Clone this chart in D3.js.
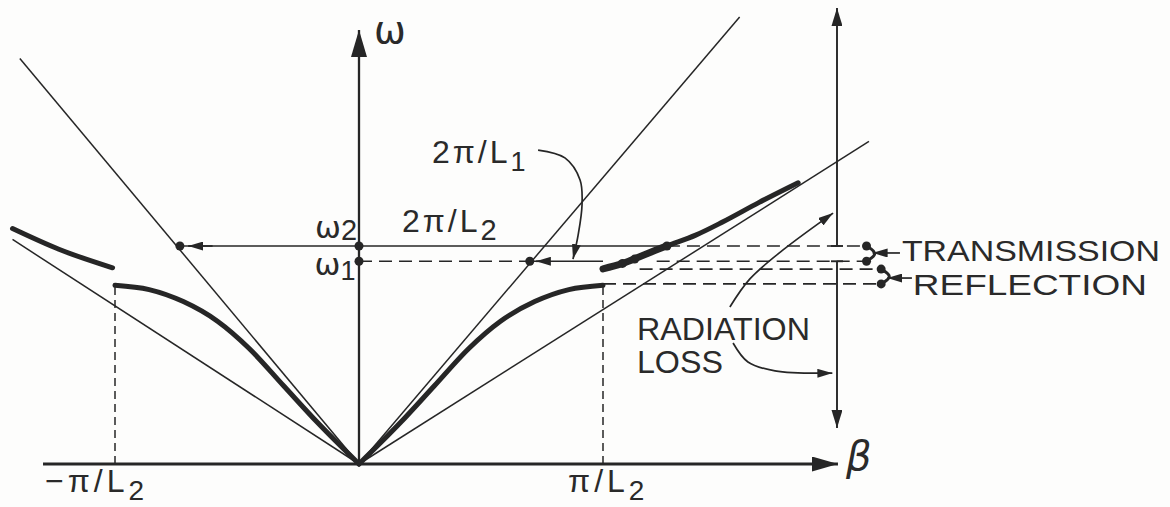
<!DOCTYPE html>
<html lang="en">
<head>
<meta charset="UTF-8">
<title>Dispersion diagram</title>
<script src="https://d3js.org/d3.v7.min.js"></script>
<style>
    body { margin: 0; background: #fdfdfc; }
    svg { display: block; }
    text { font-family: "Liberation Sans", Arial, sans-serif; fill: #2a2a2a; }
    .greek { font-family: "DejaVu Sans", sans-serif; }
</style>
</head>
<body>
<svg width="1170" height="507"></svg>
<script>
// beta in units of pi/L2, omega in units of omega2
const steepLines = [[[0, 0], [-1.39, 1.86]], [[0, 0], [1.56, 2.05]]];
const shallowLines = [[[0, 0], [-1.42, 1.03]], [[0, 0], [2.09, 1.48]]];

const branchUpperLeft = [[-1.42, 1.08], [-1.23, 0.985], [-1.01, 0.90]];
const branchLowerLeft = [[-1.0, 0.82], [-0.86, 0.80], [-0.72, 0.745], [-0.58, 0.655], [-0.45, 0.53], [-0.31, 0.36], [-0.17, 0.19], [0, 0]];
const branchLowerRight = [[0, 0], [0.17, 0.19], [0.31, 0.36], [0.45, 0.53], [0.58, 0.655], [0.72, 0.745], [0.86, 0.80], [1.0, 0.82]];
const branchUpperRight = [[1.00, 0.895], [1.08, 0.92], [1.17, 0.96], [1.26, 1.00], [1.38, 1.05], [1.49, 1.11], [1.64, 1.20], [1.80, 1.29]];

const solidLevels = [[[-0.734, 1.0], [1.262, 1.0]], [[0.70, 0.93], [1.0, 0.93]]];
const dashedLevels = [
    [[1.262, 1.0], [2.08, 1.0]],
    [[0, 0.93], [0.70, 0.93]],
    [[1.22, 0.93], [2.08, 0.93]],
    [[1.15, 0.894], [2.14, 0.894]],
    [[1.0, 0.826], [2.14, 0.826]]
];
const dashedEdges = [[[-1, 0], [-1, 0.82]], [[1, 0], [1, 0.826]]];

const dots = [[0, 1.0], [0, 0.93], [-0.734, 1.0], [0.70, 0.93], [1.262, 1.0], [1.08, 0.92], [1.13, 0.94],
              [2.08, 1.0], [2.08, 0.93], [2.14, 0.894], [2.14, 0.826]];

const brackets = [[[2.08, 1.0], [2.13, 0.965], [2.08, 0.93]], [[2.14, 0.894], [2.19, 0.86], [2.14, 0.826]]];
const smallArrows = [
    [[-0.60, 1.0], [-0.70, 1.0]],
    [[0.78, 0.93], [0.725, 0.93]],
    [[2.217, 0.968], [2.105, 0.968]],
    [[2.266, 0.853], [2.165, 0.853]]
];
const curvedArrows = [
    [[0.734, 1.440], [0.844, 1.404], [0.906, 1.303], [0.914, 1.188], [0.898, 1.050], [0.877, 0.940]],
    [[1.520, 0.720], [1.602, 0.849], [1.738, 0.982], [1.943, 1.151]],
    [[1.533, 0.555], [1.594, 0.468], [1.705, 0.427], [1.940, 0.417]]
];
const radiationBar = { beta: 1.959, top: 2.092, upperEnd: 1.0, lowerStart: 0.93, bottom: 0.165 };
const betaAxis = [-1.295, 1.963];
const omegaAxisTop = 1.991;

const labels = [
    { main: "ω", sub: "", b: 0.061, w: 1.931, size: 38, greek: true },
    { main: "ω", sub: "2", b: -0.180, w: 1.037, size: 31, subSize: 29, dy: 2, greek: true },
    { main: "ω", sub: "1", b: -0.182, w: 0.867, size: 31, subSize: 27, dy: 5, greek: true },
    { main: "2π/L", sub: "1", b: 0.299, w: 1.381, size: 32, subSize: 27, dy: 8, ls: 3 },
    { main: "2π/L", sub: "2", b: 0.176, w: 1.064, size: 32, subSize: 29, dy: 8, ls: 3 },
    { main: "−π/L", sub: "2", b: -1.287, w: -0.130, size: 32, subSize: 28, dy: 8, ls: 4 },
    { main: "π/L", sub: "2", b: 0.857, w: -0.130, size: 32, subSize: 28, dy: 8, ls: 4 }
];
const capsLabels = [
    { text: "TRANSMISSION", b: 2.225, w: 0.931, len: 258, size: 30 },
    { text: "REFLECTION", b: 2.270, w: 0.775, len: 234, size: 30 },
    { text: "RADIATION", b: 1.139, w: 0.569, len: 173, size: 32 },
    { text: "LOSS", b: 1.139, w: 0.418, len: 86, size: 32 }
];

const x = d3.scaleLinear().domain([-1, 1]).range([115, 603]);
const y = d3.scaleLinear().domain([0, 1]).range([464, 246]);
const ink = "#262626";

const svg = d3.select("svg");
const defs = svg.append("defs");

function marker(id, len, wid) {
    defs.append("marker")
        .attr("id", id)
        .attr("viewBox", "0 0 10 10")
        .attr("preserveAspectRatio", "none")
        .attr("refX", 10).attr("refY", 5)
        .attr("markerUnits", "userSpaceOnUse")
        .attr("markerWidth", len).attr("markerHeight", wid)
        .attr("orient", "auto")
        .append("path")
        .attr("d", "M0,0L10,5L0,10Z")
        .attr("fill", ink);
}
marker("head-omega", 27, 16);
marker("head-beta", 26, 15);
marker("head-bar", 18, 11);
marker("head-small", 15, 9);

const line = d3.line().x(d => x(d[0])).y(d => y(d[1]));
const smooth = d3.line().x(d => x(d[0])).y(d => y(d[1])).curve(d3.curveCatmullRom.alpha(0.5));
const mono = d3.line().x(d => x(d[0])).y(d => y(d[1])).curve(d3.curveMonotoneX);
const basis = d3.line().x(d => x(d[0])).y(d => y(d[1])).curve(d3.curveBasis);

// thin asymptote lines
svg.append("g").selectAll("path")
    .data(steepLines.concat(shallowLines))
    .join("path")
    .attr("d", line)
    .attr("fill", "none").attr("stroke", ink).attr("stroke-width", 1.5);

// dashed levels
svg.append("g").selectAll("path")
    .data(dashedLevels)
    .join("path")
    .attr("d", line)
    .attr("fill", "none").attr("stroke", ink).attr("stroke-width", 1.7)
    .attr("stroke-dasharray", "13,7");

svg.append("g").selectAll("path")
    .data(dashedEdges)
    .join("path")
    .attr("d", line)
    .attr("fill", "none").attr("stroke", ink).attr("stroke-width", 1.5)
    .attr("stroke-dasharray", "8,5");

// solid levels
svg.append("g").selectAll("path")
    .data(solidLevels)
    .join("path")
    .attr("d", line)
    .attr("fill", "none").attr("stroke", ink).attr("stroke-width", 1.7);

// axes
svg.append("path")
    .attr("d", line([[betaAxis[0], 0], [betaAxis[1], 0]]))
    .attr("stroke", ink).attr("stroke-width", 2.8)
    .attr("marker-end", "url(#head-beta)");
svg.append("path")
    .attr("d", line([[0, 0], [0, omegaAxisTop]]))
    .attr("stroke", ink).attr("stroke-width", 2.3)
    .attr("marker-end", "url(#head-omega)");

// radiation double arrow with gap at the transmission band
const rb = radiationBar;
svg.append("path")
    .attr("d", line([[rb.beta, rb.upperEnd], [rb.beta, rb.top]]))
    .attr("stroke", ink).attr("stroke-width", 1.9)
    .attr("marker-end", "url(#head-bar)");
svg.append("path")
    .attr("d", line([[rb.beta, rb.lowerStart], [rb.beta, rb.bottom]]))
    .attr("stroke", ink).attr("stroke-width", 1.9)
    .attr("marker-end", "url(#head-bar)");
svg.append("g").selectAll("line")
    .data([rb.upperEnd, rb.lowerStart])
    .join("line")
    .attr("x1", d => x(rb.beta) - 6).attr("x2", d => x(rb.beta) + 6)
    .attr("y1", d => y(d)).attr("y2", d => y(d))
    .attr("stroke", ink).attr("stroke-width", 1.9);

// dispersion branches
svg.append("g").selectAll("path")
    .data([branchUpperLeft, branchLowerLeft, branchLowerRight, branchUpperRight])
    .join("path")
    .attr("d", mono)
    .attr("fill", "none").attr("stroke", ink)
    .attr("stroke-width", 5).attr("stroke-linecap", "round");
svg.append("path")
    .attr("d", mono(branchUpperRight.slice(0, 4)))
    .attr("fill", "none").attr("stroke", ink)
    .attr("stroke-width", 7).attr("stroke-linecap", "round");

// arrows
svg.append("g").selectAll("path")
    .data(smallArrows)
    .join("path")
    .attr("d", line)
    .attr("stroke", ink).attr("stroke-width", 1.7)
    .attr("marker-end", "url(#head-small)");
svg.append("g").selectAll("path")
    .data(curvedArrows)
    .join("path")
    .attr("d", smooth)
    .attr("fill", "none").attr("stroke", ink).attr("stroke-width", 1.7)
    .attr("marker-end", "url(#head-small)");

svg.append("g").selectAll("path")
    .data(brackets)
    .join("path")
    .attr("d", basis)
    .attr("fill", "none").attr("stroke", ink).attr("stroke-width", 3);

// dots
svg.append("g").selectAll("circle")
    .data(dots)
    .join("circle")
    .attr("cx", d => x(d[0])).attr("cy", d => y(d[1]))
    .attr("r", 4.5).attr("fill", ink);

// labels
const lab = svg.append("g").selectAll("text")
    .data(labels)
    .join("text")
    .attr("x", d => x(d.b)).attr("y", d => y(d.w))
    .attr("class", d => d.greek ? "greek" : null)
    .style("font-size", d => d.size + "px")
    .style("letter-spacing", d => (d.ls || 0) + "px");
lab.append("tspan").text(d => d.main);
lab.append("tspan")
    .attr("dy", d => d.dy || 0)
    .style("font-size", d => (d.subSize || d.size) + "px")
    .style("font-family", '"Liberation Sans", Arial, sans-serif')
    .text(d => d.sub);

svg.append("text")
    .attr("class", "greek")
    .attr("x", x(1.996)).attr("y", y(-0.028))
    .style("font-size", "40px").style("font-style", "italic")
    .text("β");

svg.append("g").selectAll("text")
    .data(capsLabels)
    .join("text")
    .attr("x", d => x(d.b)).attr("y", d => y(d.w))
    .attr("textLength", d => d.len)
    .attr("lengthAdjust", "spacingAndGlyphs")
    .style("font-size", d => d.size + "px")
    .text(d => d.text);
</script>
</body>
</html>
